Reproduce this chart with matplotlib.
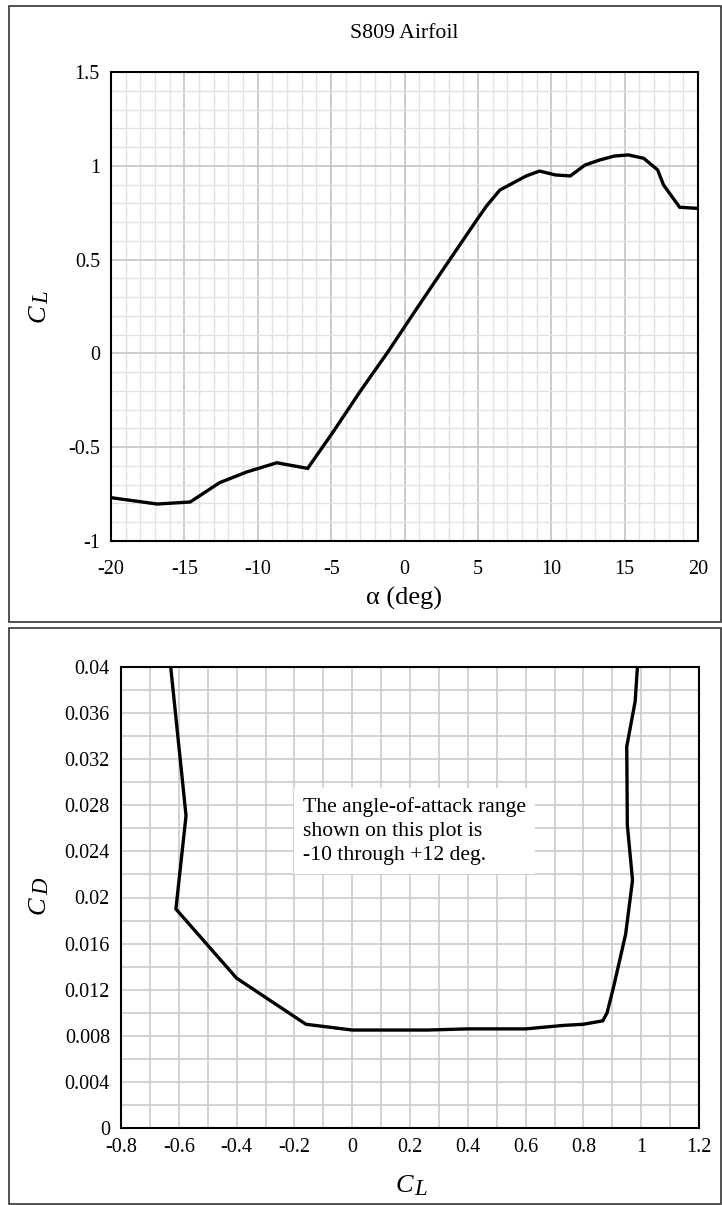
import matplotlib
matplotlib.use("Agg")
import matplotlib.pyplot as plt
from matplotlib.ticker import MultipleLocator
from matplotlib.patches import Rectangle

plt.rcParams['font.family'] = ['Liberation Serif', 'DejaVu Serif']

# ---- Data: lift curve ----
alpha_deg = [-20.0, -16.85, -14.6, -12.6, -10.75, -8.7, -6.6, -4.85, -3.0, -1.2,
             0.8, 3.0, 5.0, 5.6, 6.5, 8.3, 9.2, 10.3, 11.3, 12.3, 13.3, 14.3,
             15.25, 16.3, 17.25, 17.65, 18.75, 20.0]
cl_alpha = [-0.769, -0.803, -0.792, -0.689, -0.632, -0.583, -0.613, -0.417, -0.20, 0.0,
            0.235, 0.49, 0.72, 0.787, 0.871, 0.946, 0.972, 0.951, 0.946, 1.004,
            1.031, 1.052, 1.058, 1.04, 0.978, 0.898, 0.779, 0.773]

# ---- Data: drag polar ----
cl_polar = [-0.628, -0.575, -0.61, -0.40, -0.16, 0.0, 0.26, 0.40, 0.50, 0.60,
            0.73, 0.80, 0.867, 0.882, 0.905, 0.946, 0.970, 0.952, 0.950, 0.979, 0.987]
cd_polar = [0.0400, 0.0271, 0.0190, 0.0130, 0.0090, 0.0085, 0.0085, 0.0086, 0.0086, 0.0086,
            0.0089, 0.0090, 0.0093, 0.0100, 0.0123, 0.0168, 0.0215, 0.0263, 0.0331, 0.0370, 0.0400]

top_title = "S809 Airfoil"
note_text = "The angle-of-attack range\nshown on this plot is\n-10 through +12 deg."

W, H = 722, 1205
fig = plt.figure(figsize=(W / 100, H / 100), dpi=100)

def fx(px):
    return px / W

def fy(py):
    return 1 - py / H

# panel borders
for (x0, y0, x1, y1) in [(9, 6, 721, 622), (9, 628, 721, 1204)]:
    fig.patches.append(Rectangle((fx(x0), fy(y1)), fx(x1) - fx(x0), fy(y0) - fy(y1),
                                 transform=fig.transFigure, fill=False,
                                 edgecolor='#333333', linewidth=1.2, zorder=0))

line_kw = dict(color='black', linewidth=2.4, solid_joinstyle='miter', zorder=3)

# ---- Top axes ----
ax1 = fig.add_axes([fx(111), fy(541), fx(698) - fx(111), fy(72) - fy(541)])
ax1.plot(alpha_deg, cl_alpha, **line_kw)
ax1.set_xlim(-20, 20)
ax1.set_ylim(-1, 1.5)
ax1.xaxis.set_minor_locator(MultipleLocator(1))
ax1.yaxis.set_minor_locator(MultipleLocator(0.1))
ax1.set_xticks([-20, -15, -10, -5, 0, 5, 10, 15, 20])
ax1.set_xticklabels(['-20', '-15', '-10', '-5', '0', '5', '10', '15', '20'])
ax1.set_yticks([-1, -0.5, 0, 0.5, 1, 1.5])
ax1.set_yticklabels(['-1', '-0.5', '0', '0.5', '1', '1.5'])
ax1.grid(which='major', color='#c4c4c4', linewidth=1.2)
ax1.grid(which='minor', color='#e2e2e2', linewidth=1.0)
ax1.set_axisbelow(True)
ax1.tick_params(which='both', length=0)
ax1.tick_params(axis='x', labelsize=14.5, pad=13.5)
ax1.tick_params(axis='y', labelsize=14.5, pad=8)
for s in ax1.spines.values():
    s.set_linewidth(1.5)
    s.set_color('black')

fig.text(fx(404.5), fy(33), top_title, ha='center', va='center', fontsize=15.7)
fig.text(fx(404.5), fy(598), "α (deg)", ha='center', va='center', fontsize=19)

def sub_label(main, sub, anchor_main, anchor_sub, rotation=0):
    kw = dict(ha='left', va='baseline', style='italic', rotation=rotation,
              rotation_mode='anchor')
    fig.text(fx(anchor_main[0]), fy(anchor_main[1]), main, fontsize=19, **kw)
    fig.text(fx(anchor_sub[0]), fy(anchor_sub[1]), sub, fontsize=16.5, **kw)

# top y label C_L (rotated)
sub_label("C", "L", (45, 322), (48, 304), rotation=90)

# ---- Bottom axes ----
ax2 = fig.add_axes([fx(121), fy(1128), fx(699) - fx(121), fy(667) - fy(1128)])
ax2.plot(cl_polar, cd_polar, **line_kw)
ax2.set_xlim(-0.8, 1.2)
ax2.set_ylim(0, 0.04)
ax2.xaxis.set_minor_locator(MultipleLocator(0.1))
ax2.yaxis.set_minor_locator(MultipleLocator(0.002))
xt2 = [-0.8, -0.6, -0.4, -0.2, 0, 0.2, 0.4, 0.6, 0.8, 1, 1.2]
ax2.set_xticks(xt2)
ax2.set_xticklabels(['-0.8', '-0.6', '-0.4', '-0.2', '0', '0.2', '0.4', '0.6', '0.8', '1', '1.2'])
yt2 = [0, 0.004, 0.008, 0.012, 0.016, 0.02, 0.024, 0.028, 0.032, 0.036, 0.04]
ax2.set_yticks(yt2)
ax2.set_yticklabels(['0', '0.004', '0.008', '0.012', '0.016', '0.02', '0.024', '0.028',
                     '0.032', '0.036', '0.04'])
ax2.grid(which='both', color='#cccccc', linewidth=1.2)
ax2.set_axisbelow(True)
ax2.tick_params(which='both', length=0)
ax2.tick_params(axis='x', labelsize=14.5, pad=7)
ax2.tick_params(axis='y', labelsize=14.5, pad=8)
for s in ax2.spines.values():
    s.set_linewidth(1.5)
    s.set_color('black')

ax2.text((303 - 121) / 578, (1128 - 831) / 461, note_text, transform=ax2.transAxes,
         ha='left', va='center', fontsize=15.6, linespacing=1.36, zorder=4,
         bbox=dict(boxstyle='square,pad=0.4', facecolor='white', edgecolor='none'))

# bottom x label C_L and y label C_D
sub_label("C", "L", (396, 1192), (414, 1195))
sub_label("C", "D", (45, 914), (48, 895), rotation=90)

fig.savefig("out.png", dpi=100)
